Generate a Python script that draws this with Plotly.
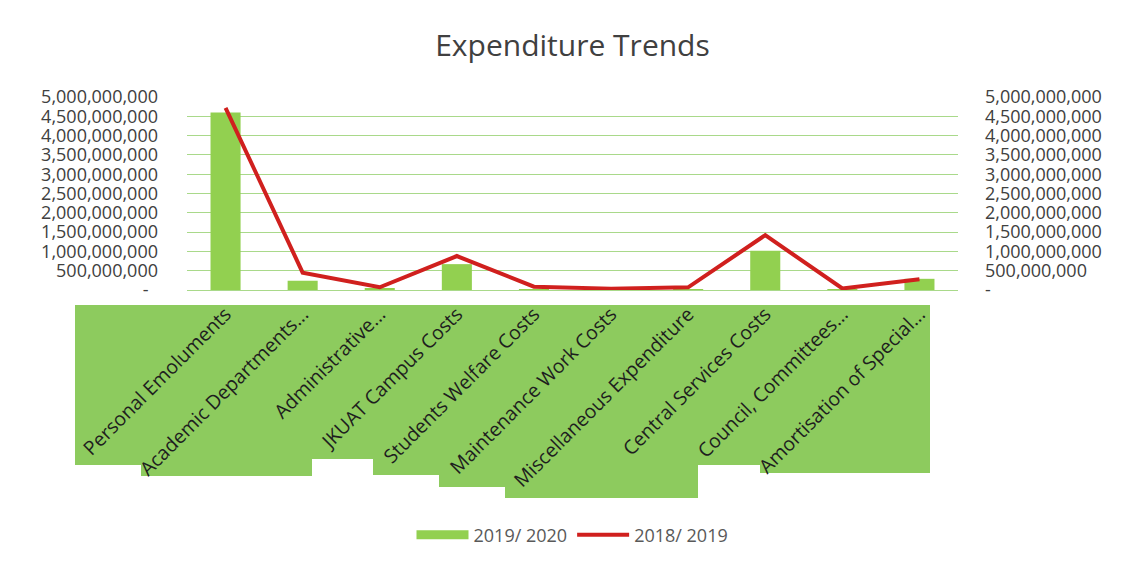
import plotly.graph_objects as go

categories = [
    "Personal Emoluments", "Academic Departments...", "Administrative...",
    "JKUAT Campus Costs", "Students Welfare Costs", "Maintenance Work Costs",
    "Miscellaneous Expenditure", "Central Services Costs", "Council, Committees...",
    "Amortisation of Special...",
]
values_2019_2020 = [4.60e9, 0.24e9, 0.03e9, 0.67e9, 0.02e9, 0.01e9, 0.01e9, 1.02e9, 0.02e9, 0.29e9]
values_2018_2019 = [4.72e9, 0.45e9, 0.07e9, 0.88e9, 0.085e9, 0.035e9, 0.07e9, 1.42e9, 0.04e9, 0.28e9]

tick_vals = [i * 5e8 for i in range(11)]
tick_text_left = ["-\u00a0\u00a0"] + [f"{v:,.0f}" for v in tick_vals[1:]]
tick_text_right = ["-"] + [f"{v:,.0f}" for v in tick_vals[1:]]

OFF = 8  # default page body margin
W, H = 1128 - 2 * OFF, 568 - 2 * OFF
# plot-area edges in screen pixels
L, R, T, B = 187, 958, 97, 290

font_family = "Open Sans, DejaVu Sans, sans-serif"
text_col = "#404040"
grid_col = "#A9D98A"
bar_col = "#92D050"
line_col = "#D0201E"

fig = go.Figure()
fig.add_trace(go.Bar(
    x=categories, y=values_2019_2020, name="2019/ 2020", showlegend=False,
    marker=dict(color=bar_col, line=dict(width=0)),
))
# legend-only entry drawn as a wide swatch, like the reference
fig.add_trace(go.Scatter(
    x=[None], y=[None], name="2019/ 2020", mode="lines",
    line=dict(color=bar_col, width=9),
))
fig.add_trace(go.Scatter(
    x=categories, y=values_2018_2019, name="2018/ 2019", yaxis="y2",
    mode="lines", line=dict(color=line_col, width=4),
))

def px_to_paper_x(px):
    return (px - L) / (R - L)

def px_to_paper_y(py):
    return (B - py) / (B - T)

# green label-background patches seen behind the category labels
patches = [
    (75, 141, 465), (141, 312, 476), (312, 373, 459), (373, 439, 475),
    (439, 505, 487), (505, 698, 498), (698, 760, 465), (760, 930, 473),
]
shapes = []
for x0, x1, yb in patches:
    shapes.append(dict(
        type="rect", xref="paper", yref="paper", layer="below",
        x0=px_to_paper_x(x0), x1=px_to_paper_x(x1),
        y0=px_to_paper_y(yb), y1=px_to_paper_y(305),
        fillcolor="#8DCB5E", line=dict(width=0),
    ))

fig.update_layout(
    template="none",
    width=W, height=H,
    margin=dict(l=L - OFF, r=(1128 - OFF) - R, t=T - OFF, b=(568 - OFF) - B, autoexpand=False),
    paper_bgcolor="white", plot_bgcolor="white",
    font=dict(family=font_family, color=text_col, size=18),
    title=dict(text="Expenditure Trends", x=0.5, xanchor="center", xref="paper",
               y=1 - (45 - OFF) / H, yanchor="middle", yref="container",
               font=dict(size=30, color=text_col)),
    bargap=0.61,
    showlegend=True,
    legend=dict(orientation="h", x=0.5, xanchor="center", xref="paper",
                y=px_to_paper_y(535), yanchor="middle",
                font=dict(size=18, color="#595959"), bgcolor="rgba(0,0,0,0)",
                traceorder="normal", itemwidth=52),
    xaxis=dict(
        type="category", tickangle=-45, showgrid=False, zeroline=False,
        showline=False, ticks="", automargin=False, ticklabelstandoff=8,
        tickfont=dict(size=19.5, color="#1E1E1E"),
    ),
    yaxis=dict(
        range=[0, 5e9], tickvals=tick_vals, ticktext=tick_text_left,
        showgrid=True, gridcolor=grid_col, gridwidth=1.3, zeroline=True,
        zerolinecolor=grid_col, zerolinewidth=1.3, showline=False, ticks="",
        automargin=False, ticklabelstandoff=28,
    ),
    yaxis2=dict(
        range=[0, 5e9], tickvals=tick_vals, ticktext=tick_text_right,
        overlaying="y", side="right", showgrid=False, zeroline=False,
        showline=False, ticks="", automargin=False, ticklabelstandoff=26,
    ),
    shapes=shapes,
)

fig.write_html("out.html")
